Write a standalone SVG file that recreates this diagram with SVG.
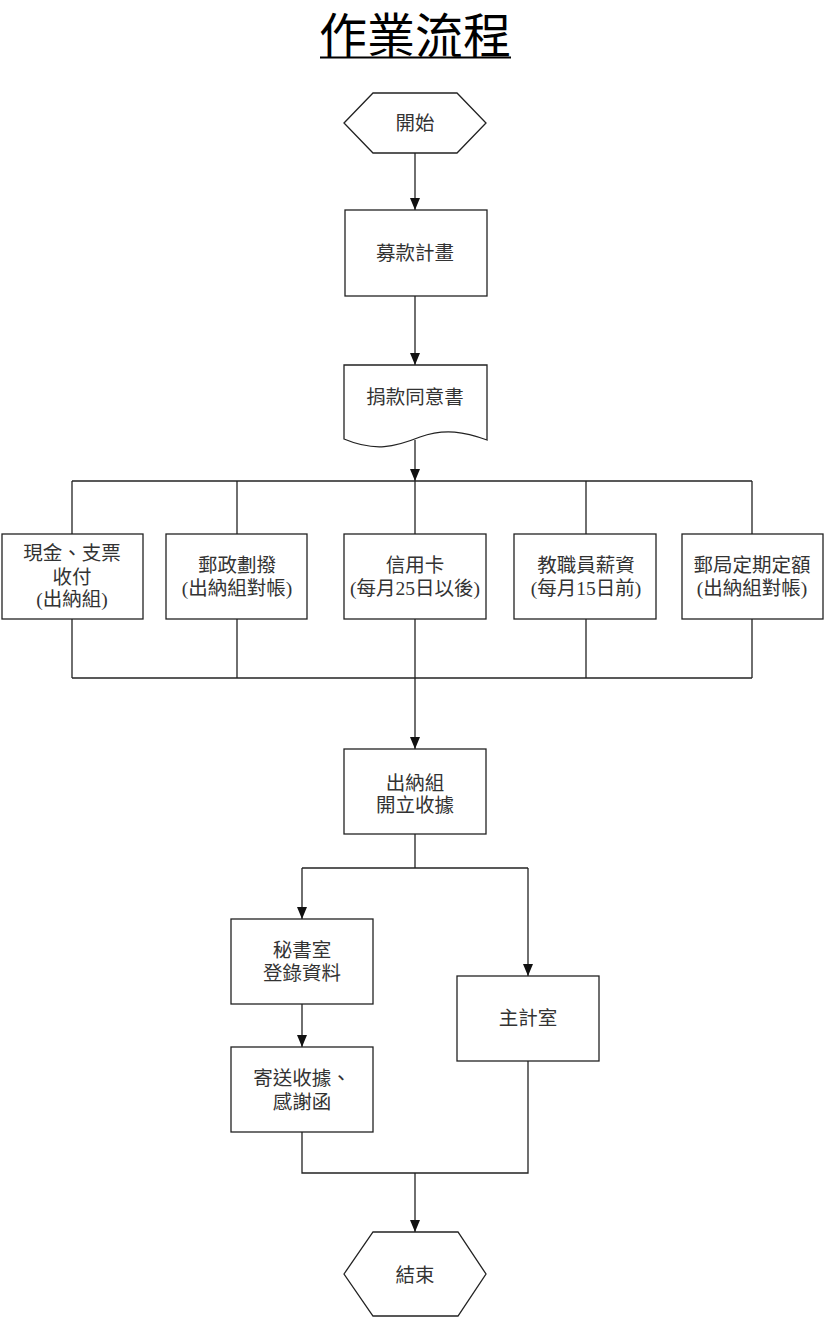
<svg xmlns="http://www.w3.org/2000/svg" width="825" height="1318" viewBox="0 0 825 1318">
<style>
.s{fill:#fff;stroke:#222;stroke-width:1.3}
.c{fill:none;stroke:#222;stroke-width:1.3}
.t{font-family:"Liberation Serif","Noto Sans CJK TC",serif;font-size:19.5px;fill:#333;text-anchor:middle}
.title{font-family:"Liberation Serif","Noto Sans CJK TC",serif;font-size:48px;fill:#000;text-anchor:middle}
</style>
<defs>
<marker id="a" markerWidth="12" markerHeight="10" refX="12" refY="5" orient="auto" markerUnits="userSpaceOnUse" viewBox="0 0 12 10">
<path d="M0,0 L12,5 L0,10 Z" fill="#111"/>
</marker>
</defs>
<rect width="825" height="1318" fill="#fff"/>
<g id="title">
<text class="title" x="415" y="53">作業流程</text>
<line x1="320" y1="57.5" x2="511" y2="57.5" stroke="#000" stroke-width="2"/>
</g>
<g id="connectors">
<line class="c" x1="415" y1="153" x2="415" y2="210" marker-end="url(#a)"/>
<line class="c" x1="415" y1="296" x2="415" y2="365" marker-end="url(#a)"/>
<line class="c" x1="415" y1="440" x2="415" y2="481" marker-end="url(#a)"/>
<line class="c" x1="72" y1="481" x2="752" y2="481"/>
<line class="c" x1="72" y1="481" x2="72" y2="534"/>
<line class="c" x1="237" y1="481" x2="237" y2="534"/>
<line class="c" x1="415" y1="481" x2="415" y2="534"/>
<line class="c" x1="586" y1="481" x2="586" y2="534"/>
<line class="c" x1="752" y1="481" x2="752" y2="534"/>
<line class="c" x1="72" y1="619" x2="72" y2="678"/>
<line class="c" x1="237" y1="619" x2="237" y2="678"/>
<line class="c" x1="586" y1="619" x2="586" y2="678"/>
<line class="c" x1="752" y1="619" x2="752" y2="678"/>
<line class="c" x1="415" y1="619" x2="415" y2="678"/>
<line class="c" x1="72" y1="678" x2="752" y2="678"/>
<line class="c" x1="415" y1="678" x2="415" y2="749" marker-end="url(#a)"/>
<line class="c" x1="415" y1="834" x2="415" y2="868"/>
<line class="c" x1="302" y1="868" x2="528" y2="868"/>
<line class="c" x1="302" y1="868" x2="302" y2="919" marker-end="url(#a)"/>
<line class="c" x1="528" y1="868" x2="528" y2="976" marker-end="url(#a)"/>
<line class="c" x1="302" y1="1004" x2="302" y2="1047" marker-end="url(#a)"/>
<polyline class="c" points="302,1132 302,1173 528,1173 528,1061"/>
<line class="c" x1="415" y1="1173" x2="415" y2="1232" marker-end="url(#a)"/>
</g>
<g id="start">
<polygon class="s" points="344,123 373,93 457,93 486,123 457,153 373,153"/>
<text class="t" x="415" y="130">開始</text>
</g>
<g id="plan">
<rect class="s" x="345" y="210" width="142" height="86"/>
<text class="t" x="415" y="260">募款計畫</text>
</g>
<g id="consent">
<path class="s" d="M344,365 L487,365 L487,440 C465,432 445,428 420,437 C395,447 375,452 344,439 Z"/>
<text class="t" x="415" y="404">捐款同意書</text>
</g>
<g id="cash">
<rect class="s" x="2" y="534" width="141" height="85"/>
<text class="t" x="72" y="560">現金、支票</text>
<text class="t" x="72" y="584">收付</text>
<text class="t" x="72" y="606">(出納組)</text>
</g>
<g id="postal">
<rect class="s" x="166" y="534" width="141" height="85"/>
<text class="t" x="237" y="572">郵政劃撥</text>
<text class="t" x="237" y="595">(出納組對帳)</text>
</g>
<g id="credit">
<rect class="s" x="344" y="534" width="142" height="85"/>
<text class="t" x="415" y="572">信用卡</text>
<text class="t" x="415" y="595">(每月25日以後)</text>
</g>
<g id="salary">
<rect class="s" x="514" y="534" width="142" height="85"/>
<text class="t" x="586" y="572">教職員薪資</text>
<text class="t" x="586" y="595">(每月15日前)</text>
</g>
<g id="fixed">
<rect class="s" x="682" y="534" width="141" height="85"/>
<text class="t" x="752" y="572">郵局定期定額</text>
<text class="t" x="752" y="595">(出納組對帳)</text>
</g>
<g id="receipt">
<rect class="s" x="344" y="749" width="142" height="85"/>
<text class="t" x="415" y="790">出納組</text>
<text class="t" x="415" y="812">開立收據</text>
</g>
<g id="secretary">
<rect class="s" x="231" y="919" width="142" height="85"/>
<text class="t" x="302" y="957">秘書室</text>
<text class="t" x="302" y="980">登錄資料</text>
</g>
<g id="send">
<rect class="s" x="231" y="1047" width="142" height="85"/>
<text class="t" x="302" y="1085">寄送收據、</text>
<text class="t" x="302" y="1109">感謝函</text>
</g>
<g id="accounting">
<rect class="s" x="457" y="976" width="142" height="85"/>
<text class="t" x="528" y="1025">主計室</text>
</g>
<g id="end">
<polygon class="s" points="344,1274 373,1232 458,1232 486,1274 458,1316 373,1316"/>
<text class="t" x="415" y="1282">結束</text>
</g>
</svg>
